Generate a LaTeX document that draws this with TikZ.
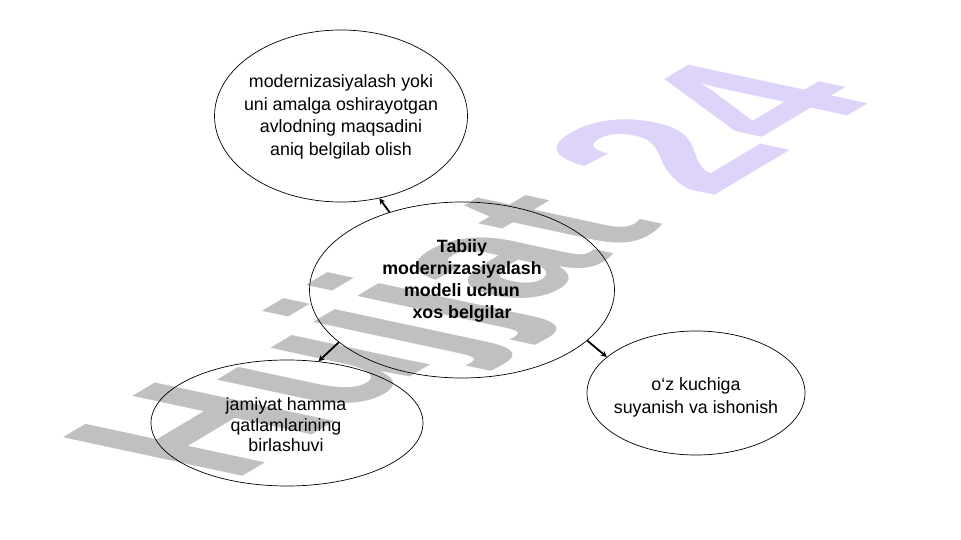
\documentclass[tikz,border=0pt]{standalone}
\usepackage{fontspec}
\setmainfont{Liberation Sans}
\usetikzlibrary{shapes.geometric,arrows.meta}
\definecolor{wmgrey}{RGB}{192,192,192}
\definecolor{wmlav}{RGB}{222,212,250}
\tikzset{
  ell/.style={draw=black, line width=0.7pt, ellipse, inner sep=0pt},
  txt/.style={align=center, font=\fontsize{17.8}{22.7}\selectfont, inner sep=0pt},
  btxt/.style={align=center, font=\fontsize{17.8}{22}\selectfont\bfseries, inner sep=0pt},
  conn/.style={line width=1.8pt, -{Stealth[length=6pt,width=6pt]}},
  wm/.style={anchor=base west, inner sep=0pt, transform shape, font=\fontsize{100}{100}\selectfont\bfseries}
}
\begin{document}
\begin{tikzpicture}[x=1pt,y=-1pt]
\useasboundingbox (0,0) rectangle (961,540);
\fill[white] (0,0) rectangle (961,540);
% watermark
\begin{scope}[cm={1.563,0.932,-2.61,0.56,(232pt,-483pt)}]
  \node[wm] (wmark) at (0,0) {\textcolor{wmgrey}{Hujjat} \textcolor{wmlav}{24}};
\end{scope}
% ellipses
\node[ell, minimum width=253pt, minimum height=172pt] (top) at (341,116) {};
\node[ell, minimum width=305pt, minimum height=176pt] (cen) at (462,290) {};
\node[ell, minimum width=272pt, minimum height=126pt] (bl) at (287,423) {};
\node[ell, minimum width=218pt, minimum height=124pt] (rt) at (696,393) {};
% texts
\node[txt] (toptext) at (341,117) {modernizasiyalash yoki\\uni amalga oshirayotgan\\avlodning maqsadini\\aniq belgilab olish};
\node[btxt] (centext) at (462,281) {Tabiiy\\modernizasiyalash\\modeli uchun\\xos belgilar};
\node[txt, font=\fontsize{17.8}{20.5}\selectfont] (bltext) at (286,425) {jamiyat hamma\\qatlamlarining\\birlashuvi};
\node[txt, font=\fontsize{17.8}{23}\selectfont] (rttext) at (696,397) {o‘z kuchiga\\suyanish va ishonish};
% connectors
\draw[conn] (cen.133.5) -- (top.-65);
\draw[conn] (cen.203) -- (bl.63);
\draw[conn] (cen.-22.5) -- (rt.158);
\end{tikzpicture}
\end{document}
